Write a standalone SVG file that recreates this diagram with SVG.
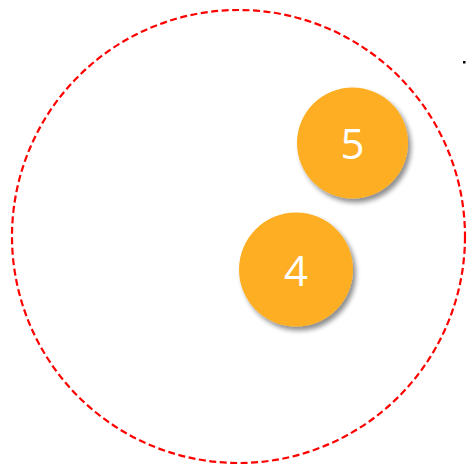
<svg xmlns="http://www.w3.org/2000/svg" width="467" height="465" viewBox="0 0 467 465">
<defs>
<filter id="sh" x="-20%" y="-20%" width="150%" height="150%">
<feGaussianBlur in="SourceAlpha" stdDeviation="2.5"/>
<feOffset dx="3" dy="4" result="b"/>
<feComponentTransfer><feFuncA type="linear" slope="0.45"/></feComponentTransfer>
<feMerge><feMergeNode/><feMergeNode in="SourceGraphic"/></feMerge>
</filter>
<style>
.node{fill:#FDAE22;filter:url(#sh)}
.lbl{fill:#fff;font-family:"Open Sans","Liberation Sans",sans-serif;font-size:42px;text-anchor:middle}
</style>
</defs>
<rect width="467" height="465" fill="#fff"/>
<circle cx="238.5" cy="236.5" r="226.5" fill="none" stroke="#FF0000" stroke-width="2.2" stroke-dasharray="7,3.5"/>
<rect x="463" y="61" width="2.5" height="2.5" fill="#000"/>
<g id="connectors"></g>
<g id="n5">
<circle class="node" cx="352.5" cy="143" r="55.5"/>
<text class="lbl" x="352.5" y="159">5</text>
</g>
<g id="n4">
<circle class="node" cx="296" cy="269.5" r="57"/>
<text class="lbl" x="296" y="286">4</text>
</g>
</svg>
